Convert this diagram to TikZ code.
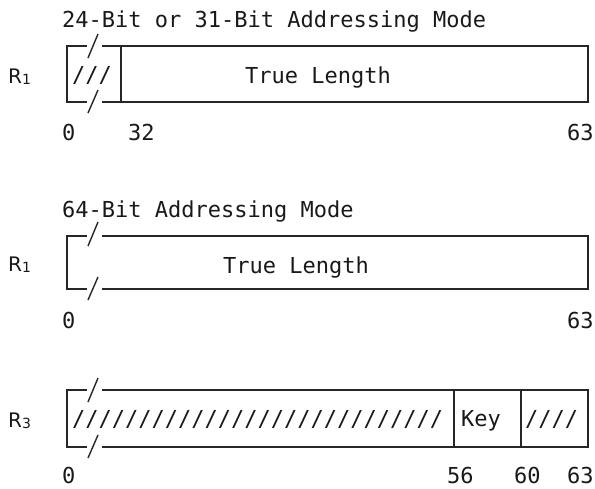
\documentclass[tikz,border=0pt]{standalone}
\usepackage{fontspec}
\newfontfamily\monofnt{DejaVu Sans Mono}
\newfontfamily\regfnt{DejaVu Sans}
\begin{document}
\begin{tikzpicture}[x=1pt,y=-1pt,
  fieldline/.style={line width=1.4pt,draw=black!85},
  slashline/.style={line width=1.4pt,draw=black!85},
  txt/.style={inner sep=0pt,anchor=base west,font=\fontsize{22}{26}\selectfont\monofnt,text=black!90},
  reglabel/.style={inner sep=0pt,anchor=base west,font=\fontsize{20}{24}\selectfont\regfnt,text=black!90}]
\useasboundingbox (0,0) rectangle (595,488);

% ---------- Register 1, 24/31-bit mode ----------
\node[txt] (t1) at (62,27) {24-Bit or 31-Bit Addressing Mode};
\node[reglabel] (r1a) at (8,83) {R\raisebox{-1pt}{\fontsize{14}{16}\selectfont 1}};
\draw[fieldline] (87,46) -- (67,46) -- (67,102) -- (87,102);
\draw[fieldline] (102,46) -- (588,46) -- (588,102) -- (102,102);
\draw[slashline] (88,58) -- (98,34);
\draw[slashline] (88,113) -- (98,90);
\draw[fieldline] (121,46) -- (121,102);
\node[txt] (res1) at (72,82) {///};
\node[txt] (len1) at (245,83) {True Length};
\node[txt] (b1a) at (62,140) {0};
\node[txt] (b1b) at (128,140) {32};
\node[txt] (b1c) at (567,140) {63};

% ---------- Register 1, 64-bit mode ----------
\node[txt] (t2) at (62,217) {64-Bit Addressing Mode};
\node[reglabel] (r1b) at (8,271) {R\raisebox{-1pt}{\fontsize{14}{16}\selectfont 1}};
\draw[fieldline] (87,236) -- (67,236) -- (67,289) -- (87,289);
\draw[fieldline] (102,236) -- (588,236) -- (588,289) -- (102,289);
\draw[slashline] (88,246) -- (98,222);
\draw[slashline] (88,300) -- (98,277);
\node[txt] (len2) at (223,273) {True Length};
\node[txt] (b2a) at (62,328) {0};
\node[txt] (b2c) at (567,328) {63};

% ---------- Register 3 ----------
\node[reglabel] (r3) at (8,427) {R\raisebox{-1pt}{\fontsize{14}{16}\selectfont 3}};
\draw[fieldline] (87,390) -- (67,390) -- (67,447) -- (87,447);
\draw[fieldline] (102,390) -- (588,390) -- (588,447) -- (102,447);
\draw[slashline] (88,402) -- (98,378);
\draw[slashline] (88,458) -- (98,435);
\draw[fieldline] (454,390) -- (454,447);
\draw[fieldline] (521,390) -- (521,447);
\node[txt] (res3a) at (72,426) {////////////////////////////};
\node[txt] (key) at (461,426) {Key};
\node[txt] (res3b) at (525,426) {////};
\node[txt] (b3a) at (62,483) {0};
\node[txt] (b3b) at (447,483) {56};
\node[txt] (b3c) at (514,483) {60};
\node[txt] (b3d) at (567,483) {63};
\end{tikzpicture}
\end{document}
